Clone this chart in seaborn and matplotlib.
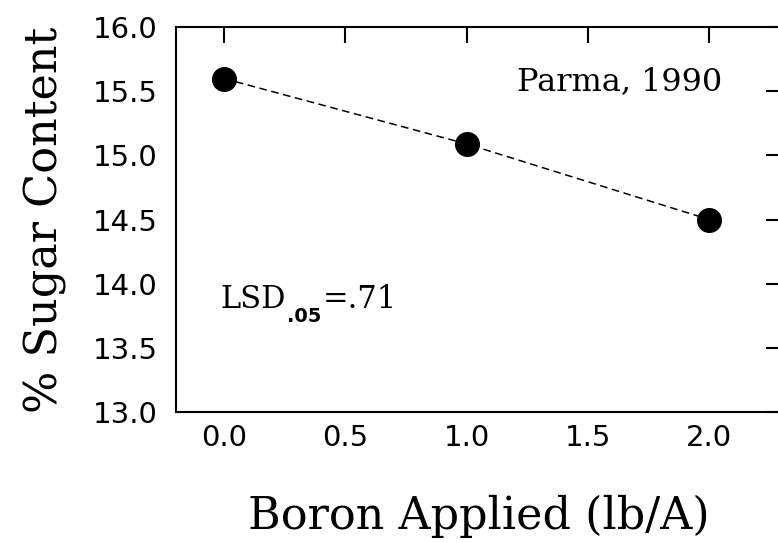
import matplotlib
matplotlib.use("Agg")
import matplotlib.pyplot as plt
import seaborn as sns
import pandas as pd

# ---- data ----
boron_applied = [0.0, 1.0, 2.0]
sugar_content = [15.6, 15.09, 14.5]
x_ticks = [0.0, 0.5, 1.0, 1.5, 2.0]
y_ticks = [13.0, 13.5, 14.0, 14.5, 15.0, 15.5, 16.0]
x_label = "Boron Applied (lb/A)"
y_label = "% Sugar Content"
site_label = "Parma, 1990"
lsd_main = "LSD"
lsd_sub = ".05"
lsd_value = "=.71"

df = pd.DataFrame({"boron": boron_applied, "sugar": sugar_content})

sns.set_style("white")
plt.rcParams["font.family"] = ["DejaVu Sans"]
plt.rcParams["text.color"] = "black"
plt.rcParams["axes.labelcolor"] = "black"

fig = plt.figure(figsize=(7.78, 5.42), dpi=100)
ax = fig.add_axes([0.2256, 0.2404, 0.7793, 0.7092])

sns.lineplot(data=df, x="boron", y="sugar", ax=ax, color="black",
             linestyle=(0, (5, 3)), linewidth=1.1,
             marker="o", markersize=17, markeredgecolor="black",
             markerfacecolor="black", markeredgewidth=1)

ax.set_xlim(-0.2, 2.3)
ax.set_ylim(13.0, 16.0)
ax.set_xticks(x_ticks)
ax.set_xticklabels([f"{t:.1f}" for t in x_ticks])
ax.set_yticks(y_ticks)
ax.set_yticklabels([f"{t:.1f}" for t in y_ticks])

for s in ax.spines.values():
    s.set_visible(True)
    s.set_linewidth(1.5)
    s.set_color("black")

ax.tick_params(axis="both", which="major", direction="in", length=11.5,
               width=1.5, color="black", top=True, right=True,
               labelsize=21, labelcolor="black")
ax.tick_params(axis="x", pad=9)
ax.tick_params(axis="y", pad=13)

ax.set_xlabel(x_label, family="DejaVu Serif", fontsize=32, labelpad=31,
              color="black")
ax.set_ylabel(y_label, family="DejaVu Serif", fontsize=32, labelpad=18,
              color="black")

ax.text(1.21, 15.51, site_label, family="DejaVu Serif", fontsize=23,
        ha="left", va="baseline", color="black")

t_main = ax.text(-0.016, 13.806, lsd_main, family="DejaVu Serif",
                 fontsize=22, ha="left", va="baseline", color="black")
t_sub = ax.annotate(lsd_sub, xy=(1, 0), xycoords=t_main,
                    xytext=(1, 6), textcoords="offset points",
                    family="DejaVu Sans", fontsize=14, fontweight="bold",
                    ha="left", va="top", color="black")
ax.annotate(lsd_value, xy=(1, 0), xycoords=(t_sub, t_main),
            xytext=(1, 0), textcoords="offset points",
            family="DejaVu Serif", fontsize=22, ha="left", va="bottom",
            color="black")

fig.savefig("out.png", dpi=100)
